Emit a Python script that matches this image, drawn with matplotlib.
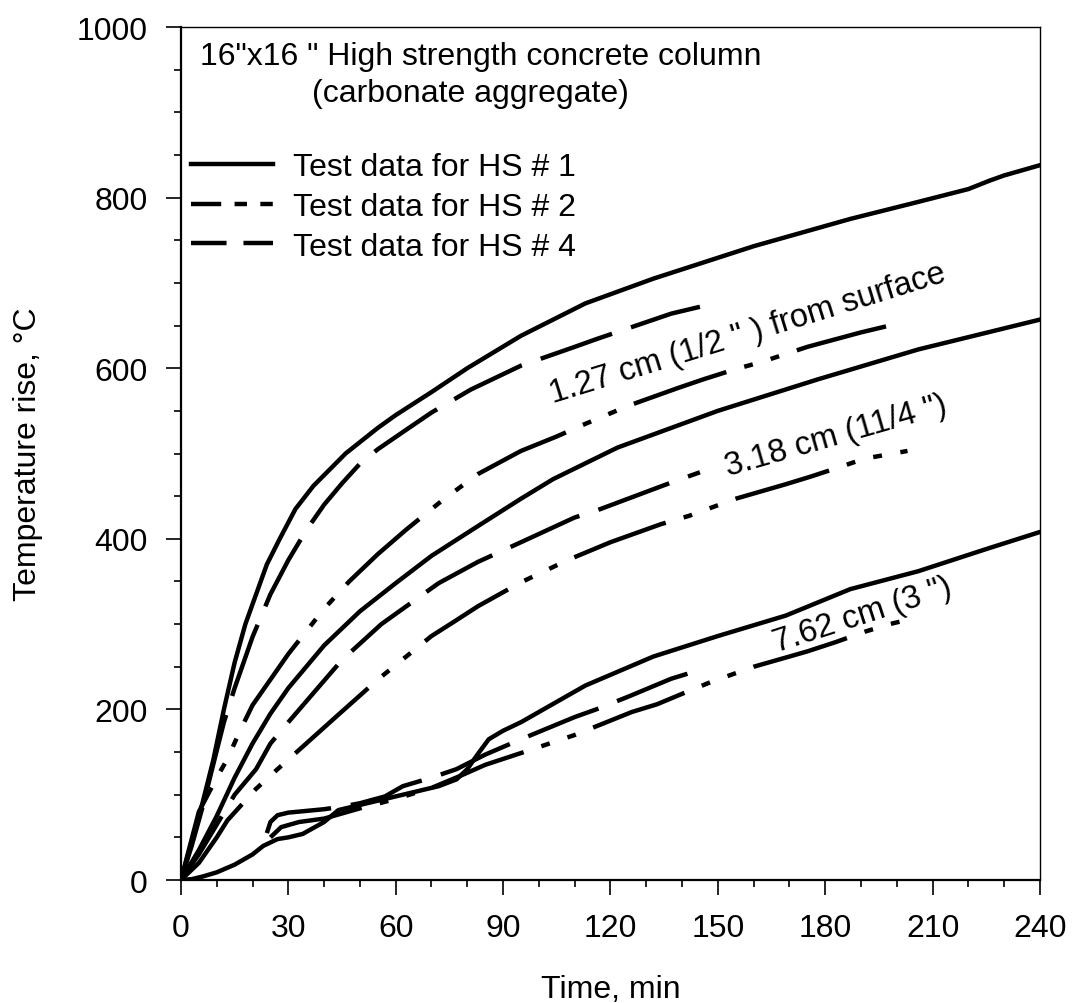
import matplotlib
matplotlib.use("Agg")
import matplotlib.pyplot as plt
from matplotlib.lines import Line2D
from matplotlib.ticker import MultipleLocator

plt.rcParams['font.family'] = ['Liberation Sans', 'DejaVu Sans']

# ---- data (time in min, temperature rise in C) ----
# 1.27 cm from surface
t_hs1_127 = [0, 3, 6, 9, 12, 15, 18, 21, 24, 27.6, 32, 37, 46, 55, 60, 70, 80, 95, 113, 132, 160, 187, 206, 220, 226, 230, 240]
T_hs1_127 = [0, 45, 90, 140, 200, 255, 300, 335, 370, 400, 435, 462, 500, 530, 545, 572, 600, 638, 676, 705, 743, 775, 795, 810, 820, 826, 838]
t_hs2_127 = [0, 5, 10, 13, 16.5, 20, 30, 40, 47, 55, 63, 73, 83, 95, 105, 112, 125, 139, 146, 155, 162, 175, 190, 197]
T_hs2_127 = [0, 80, 120, 142, 175, 205, 265, 318, 350, 382, 411, 445, 476, 503, 520, 533, 556, 577, 587, 599, 607, 625, 642, 649]
t_hs4_127 = [0, 3, 6, 9, 12, 15, 20, 25, 30, 35, 40, 45, 50, 55, 63, 70, 81, 95, 110, 116, 137, 145]
T_hs4_127 = [0, 40, 85, 135, 185, 225, 285, 335, 375, 410, 440, 465, 488, 505, 528, 548, 575, 603, 625, 634, 664, 672]

# 3.18 cm
t_hs1_318 = [0, 5, 10, 15, 20, 25, 30, 40, 50, 60, 70, 83, 95, 104, 122, 150, 178, 206, 240]
T_hs1_318 = [0, 35, 75, 120, 160, 195, 225, 275, 315, 348, 380, 415, 447, 470, 507, 550, 587, 622, 657]
t_hs2_318 = [0, 5, 10, 13, 21, 27, 35, 43.5, 55, 70, 76, 83, 95, 108, 120, 134, 142, 155, 169, 176, 184, 191, 203]
T_hs2_318 = [0, 20, 50, 70, 107, 130, 160, 192, 235, 286, 302, 321, 349, 375, 396, 417, 427, 447, 464, 473, 484, 494, 503]
t_hs4_318 = [0, 5, 10, 15, 21, 25, 30, 38, 45, 56, 62, 72, 83, 95, 110, 116, 137, 145]
T_hs4_318 = [0, 30, 65, 100, 130, 160, 185, 224, 258, 300, 318, 348, 373, 396, 425, 433, 466, 478]

# 7.62 cm
t_hs1_762 = [0, 3, 6, 10, 15, 20, 23, 27, 30, 34, 40, 44, 50, 57, 65, 72, 77, 80, 83, 86, 90, 95, 113, 132, 150, 169, 187, 206, 225, 240]
T_hs1_762 = [0, 1, 4, 9, 18, 30, 40, 48, 50, 54, 68, 82, 88, 95, 103, 110, 118, 130, 148, 165, 175, 185, 228, 262, 286, 310, 341, 362, 388, 408]
t_hs2_762 = [25, 28, 33, 40, 45, 50, 60, 70, 78, 85, 98, 110, 126, 133, 141, 148, 160, 175, 183, 191, 198, 204]
T_hs2_762 = [50, 62, 68, 72, 78, 84, 95, 108, 122, 135, 153, 170, 197, 206, 220, 232, 250, 268, 279, 291, 300, 306]
t_hs4_762 = [24, 25, 27, 30, 35, 40, 45, 50, 57, 62, 70, 77, 85, 95, 110, 116, 125, 137, 144]
T_hs4_762 = [55, 68, 76, 79, 81, 83, 86, 90, 98, 110, 120, 130, 147, 165, 191, 200, 215, 236, 245]

legend_labels = ['Test data for HS # 1', 'Test data for HS # 2', 'Test data for HS # 4']

# line styles
lw = 3.2
sty1 = dict(color='black', lw=lw, ls='-')
sty2 = dict(color='black', lw=lw, ls=(0, (22, 4.2, 2, 4.2, 2, 4.2)), dash_capstyle='butt')
sty4 = dict(color='black', lw=lw, ls=(0, (17, 4.5)), dash_capstyle='butt')

fig = plt.figure(figsize=(10.72, 10.04), dpi=100)
ax = fig.add_axes([0.1688, 0.1225, 0.8013, 0.8496])

ax.plot(t_hs1_127, T_hs1_127, **sty1)
ax.plot(t_hs1_318, T_hs1_318, **sty1)
ax.plot(t_hs1_762, T_hs1_762, **sty1)
ax.plot(t_hs2_127, T_hs2_127, **sty2)
ax.plot(t_hs2_318, T_hs2_318, **sty2)
ax.plot(t_hs2_762, T_hs2_762, **sty2)
ax.plot(t_hs4_127, T_hs4_127, **sty4)
ax.plot(t_hs4_318, T_hs4_318, **sty4)
ax.plot(t_hs4_762, T_hs4_762, **sty4)

ax.set_xlim(0, 240)
ax.set_ylim(0, 1000)
ax.xaxis.set_major_locator(MultipleLocator(30))
ax.xaxis.set_minor_locator(MultipleLocator(10))
ax.yaxis.set_major_locator(MultipleLocator(200))
ax.yaxis.set_minor_locator(MultipleLocator(50))
ax.tick_params(which='major', direction='out', length=11, width=1.2, labelsize=23, pad=13)
ax.tick_params(which='minor', direction='out', length=5, width=1.2)
ax.tick_params(axis='y', which='major', pad=13)
for s in ax.spines.values():
    s.set_linewidth(1.0)
ax.spines['left'].set_linewidth(1.6)
ax.spines['bottom'].set_linewidth(1.6)

ax.set_xlabel('Time, min', fontsize=23, labelpad=22)
ax.set_ylabel('Temperature rise, \u00b0C', fontsize=23)
ax.yaxis.set_label_coords(-0.1605, 0.5)

# title block inside the axes
ax.text(0.022, 0.9566, '16"x16 " High strength concrete column', transform=ax.transAxes,
        fontsize=23, ha='left', va='baseline')
ax.text(0.152, 0.9132, '(carbonate aggregate)', transform=ax.transAxes,
        fontsize=23, ha='left', va='baseline')

# legend with short proxy dash patterns
h1 = Line2D([], [], color='black', lw=lw, ls='-')
h2 = Line2D([], [], color='black', lw=lw, ls=(0, (6.8, 3, 2.8, 3, 2.8, 3)), dash_capstyle='butt')
h4 = Line2D([], [], color='black', lw=lw, ls=(0, (8, 3.8)), dash_capstyle='butt')
ax.legend([h1, h2, h4], legend_labels, loc='upper left', bbox_to_anchor=(0.012, 0.853),
          frameon=False, fontsize=23, handlelength=2.55, handletextpad=0.65,
          labelspacing=0.3, borderaxespad=0.0, borderpad=0.0)

# curve annotations
ax.text(104, 560, '1.27 cm (1/2 " ) from surface', rotation=17.2, fontsize=23.5,
        ha='left', va='baseline', rotation_mode='anchor')
ax.text(153, 475, '3.18 cm (11/4 ")', rotation=16, fontsize=23.5,
        ha='left', va='baseline', rotation_mode='anchor')
ax.text(166.5, 268, '7.62 cm (3 ")', rotation=18, fontsize=23.5,
        ha='left', va='baseline', rotation_mode='anchor')

fig.savefig('out.png', dpi=100)
